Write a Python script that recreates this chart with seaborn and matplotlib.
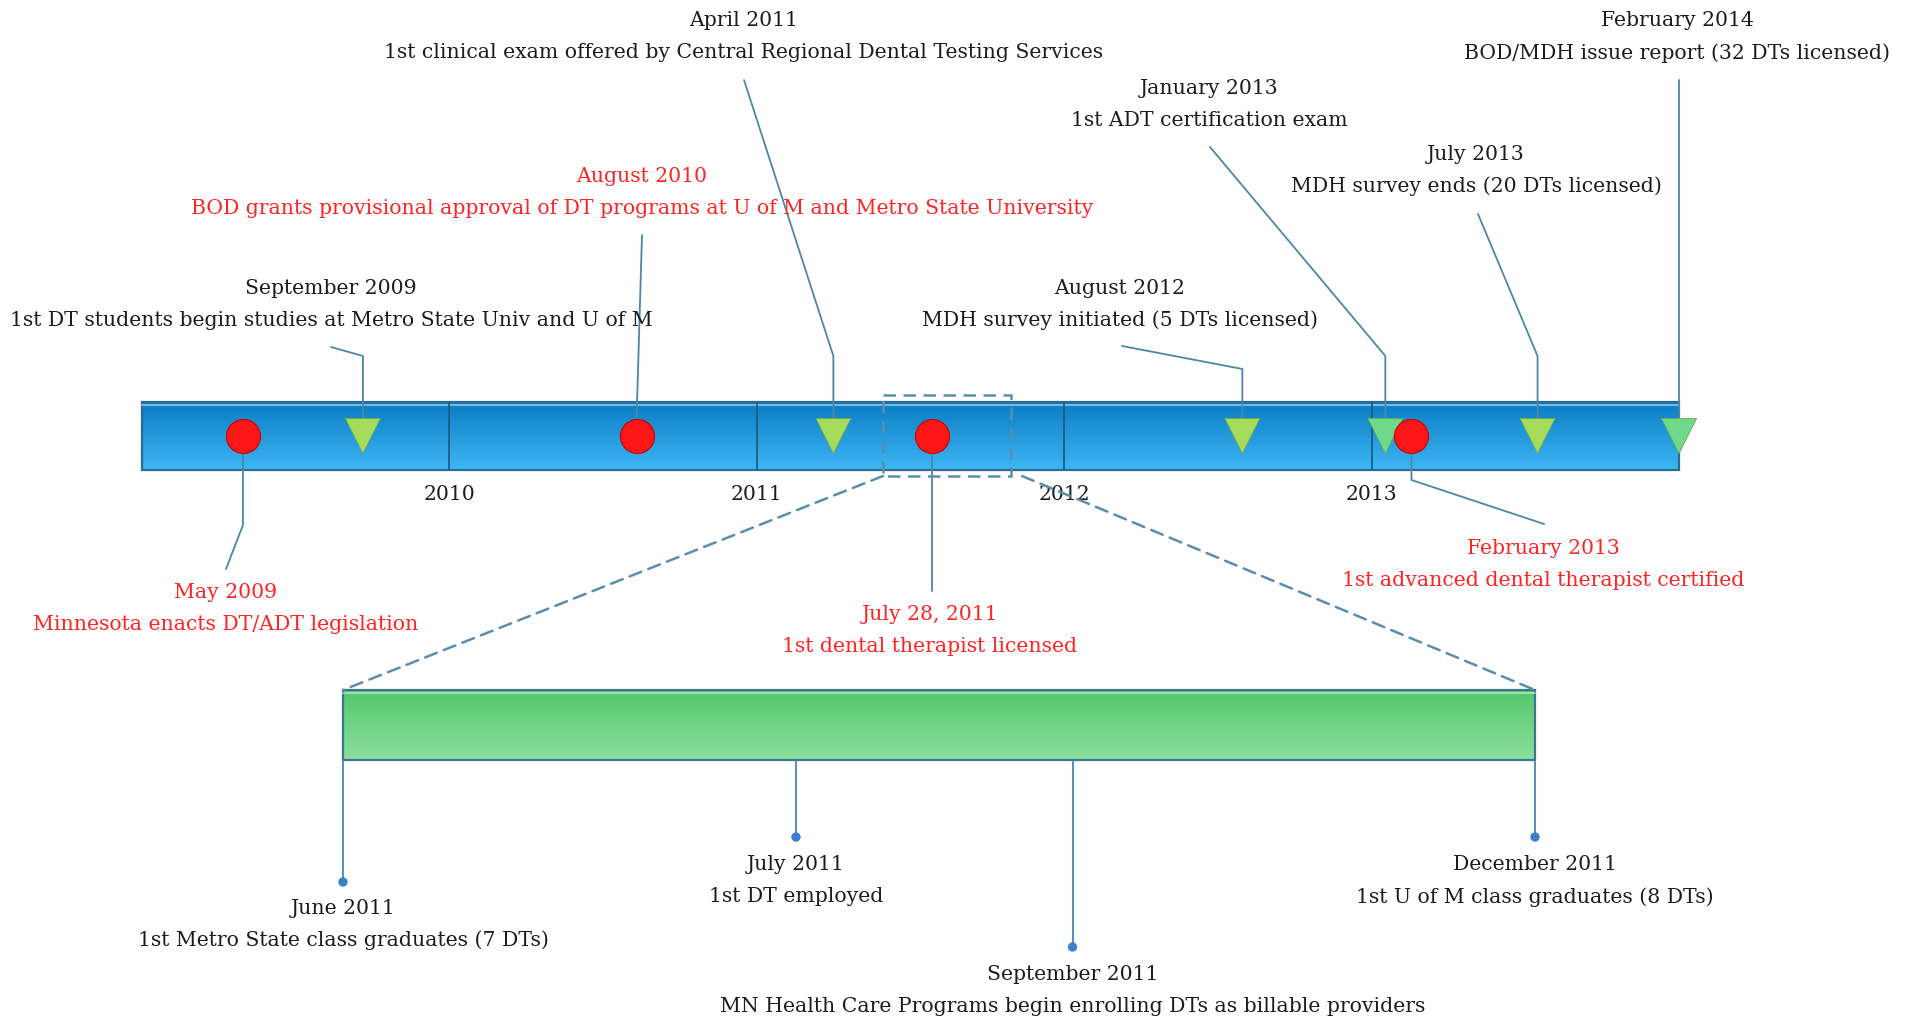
import numpy as np
import pandas as pd
import matplotlib.pyplot as plt
import seaborn as sns
from matplotlib.patches import Rectangle, ConnectionPatch

# main timeline, positions in decimal years
event_dates = [2009.33, 2009.72, 2010.61, 2011.25, 2011.57,
               2012.58, 2013.045, 2013.13, 2013.54, 2014.0]
event_kind = ['policy', 'study', 'policy', 'study', 'policy',
              'study', 'exam', 'policy', 'study', 'exam']
event_titles = ['May 2009', 'September 2009', 'August 2010', 'April 2011',
                'July 28, 2011', 'August 2012', 'January 2013',
                'February 2013', 'July 2013', 'February 2014']
event_descs = ['Minnesota enacts DT/ADT legislation',
               '1st DT students begin studies at Metro State Univ and U of M',
               'BOD grants provisional approval of DT programs at U of M and Metro State University',
               '1st clinical exam offered by Central Regional Dental Testing Services',
               '1st dental therapist licensed',
               'MDH survey initiated (5 DTs licensed)',
               '1st ADT certification exam',
               '1st advanced dental therapist certified',
               'MDH survey ends (20 DTs licensed)',
               'BOD/MDH issue report (32 DTs licensed)']
year_ticks = [2010, 2011, 2012, 2013]
span = (2009, 2014)

# zoomed window: June - December 2011
zoom_span = (2011.417, 2011.917)
zoom_dates = [2011.417, 2011.607, 2011.723, 2011.917]
zoom_titles = ['June 2011', 'July 2011', 'September 2011', 'December 2011']
zoom_descs = ['1st Metro State class graduates (7 DTs)',
              '1st DT employed',
              'MN Health Care Programs begin enrolling DTs as billable providers',
              '1st U of M class graduates (8 DTs)']

# ---- layout (pixels) ----
W, H = 1907, 1023
PPY = 307.5
X0 = 2009 - 141.5 / PPY
ZPY = 1192 / (zoom_span[1] - zoom_span[0])
ZX0 = zoom_span[0] - 343 / ZPY


def px(x):
    return X0 + x / PPY


lab_x = [226, 331, 642, 744, 930, 1120, 1209, 1543, 1476, 1677]
lab_y = [592, 288, 176, 21, 615, 288, 88, 548, 154, 21]
# None -> at the event date
leaders = [[(None, 453), (None, 525), (226, 569)],
           [(331, 347), (None, 356), (None, 418)],
           [(642, 235), (None, 419)],
           [(744, 80), (None, 356), (None, 418)],
           [(None, 453), (None, 591)],
           [(1122, 346), (None, 369), (None, 418)],
           [(1210, 147), (None, 356), (None, 418)],
           [(None, 453), (None, 480), (1544, 524)],
           [(1478, 214), (None, 356), (None, 418)],
           [(None, 80), (None, 418)]]
zoom_lab_y = [908, 865, 975, 865]
zoom_dot_y = [882, 837, 947, 837]

RED = '#ff2424'
INK = '#1c1c1c'
LEAD = '#4d86a6'

sns.set_theme(style='white')
plt.rcParams['font.family'] = ['DejaVu Serif']
FS = 14.7

fig = plt.figure(figsize=(W / 100, H / 100), dpi=100)
ax = fig.add_axes([0, 0, 1, 1])
ax2 = fig.add_axes([0, 0, 1, 1])
ax2.patch.set_alpha(0)


def gradient(a, x0, x1, y0, y1, top, bottom, edge):
    c0 = np.array(plt.matplotlib.colors.to_rgb(top))
    c1 = np.array(plt.matplotlib.colors.to_rgb(bottom))
    t = np.linspace(0, 1, 64)[:, None, None]
    img = c0 * (1 - t) + c1 * t
    a.imshow(img, extent=(x0, x1, y1, y0), origin='upper', aspect='auto', zorder=1)
    a.add_patch(Rectangle((x0, y0), x1 - x0, y1 - y0, fill=False,
                          edgecolor=edge, lw=1.6, zorder=2))
    a.plot([x0, x1], [y0 + 2.5, y0 + 2.5], color='white', alpha=0.45, lw=1.5, zorder=2)


# main bar
gradient(ax, span[0], span[1], 402, 470, '#0a7dc3', '#3db6f4', '#2c6c92')
ax.vlines(year_ticks, 402, 470, color='#1f5b80', lw=1.3, zorder=2)
for yr in year_ticks:
    ax.text(yr, 494, str(yr), ha='center', va='center', fontsize=FS, color=INK)

# leader lines
for d, pts in zip(event_dates, leaders):
    xs = [d if x is None else px(x) for x, _ in pts]
    ys = [y for _, y in pts]
    ax.plot(xs, ys, color=LEAD, lw=1.3, zorder=3)

# labels
for i, d in enumerate(event_dates):
    col = RED if event_kind[i] == 'policy' else INK
    ax.text(px(lab_x[i]), lab_y[i], event_titles[i], ha='center', va='center',
            fontsize=FS, color=col)
    ax.text(px(lab_x[i]), lab_y[i] + 32, event_descs[i], ha='center', va='center',
            fontsize=FS, color=col)

ev = pd.DataFrame({'date': event_dates, 'kind': event_kind})
ev['y'] = 436
sns.scatterplot(data=ev[ev.kind == 'policy'], x='date', y='y', marker='o', s=600,
                color='#ff1616', edgecolor='#c80000', linewidth=0.8, ax=ax, zorder=5,
                legend=False)
sns.scatterplot(data=ev[ev.kind != 'policy'], x='date', y='y', hue='kind',
                palette={'study': '#a6dc5c', 'exam': '#6ed98a'}, marker='v', s=640,
                edgecolor='#6aa84f', linewidth=0.6, ax=ax, zorder=4, legend=False)

# zoom window
ax.add_patch(Rectangle((px(883), 395), 128 / PPY, 81, fill=False,
                       edgecolor='#5a8eab', lw=1.8, ls=(0, (5, 3)), zorder=6))

# inset bar
gradient(ax2, zoom_span[0], zoom_span[1], 690, 760, '#52c86c', '#8cdf9c', '#3b7790')
for xa, xb in [(883, zoom_span[0]), (1022, zoom_span[1])]:
    con = ConnectionPatch(xyA=(px(xa), 476), coordsA=ax.transData,
                          xyB=(xb, 690), coordsB=ax2.transData,
                          color='#5a8eab', lw=1.8, ls=(0, (5, 3)))
    fig.add_artist(con)

zd = pd.DataFrame({'date': zoom_dates, 'y': zoom_dot_y})
ax2.vlines(zoom_dates, 760, zoom_dot_y, color='#4a86b0', lw=1.3, zorder=3)
sns.scatterplot(data=zd, x='date', y='y', s=45, color='#3b7fcf', edgecolor='none',
                ax=ax2, zorder=4, legend=False)
for i, d in enumerate(zoom_dates):
    ax2.text(d, zoom_lab_y[i], zoom_titles[i], ha='center', va='center',
             fontsize=FS, color=INK)
    ax2.text(d, zoom_lab_y[i] + 32, zoom_descs[i], ha='center', va='center',
             fontsize=FS, color=INK)

ax.set_xlim(X0, X0 + W / PPY)
ax2.set_xlim(ZX0, ZX0 + W / ZPY)
for a in (ax, ax2):
    a.set_ylim(H, 0)
    a.axis('off')

fig.savefig('out.png', dpi=100)
